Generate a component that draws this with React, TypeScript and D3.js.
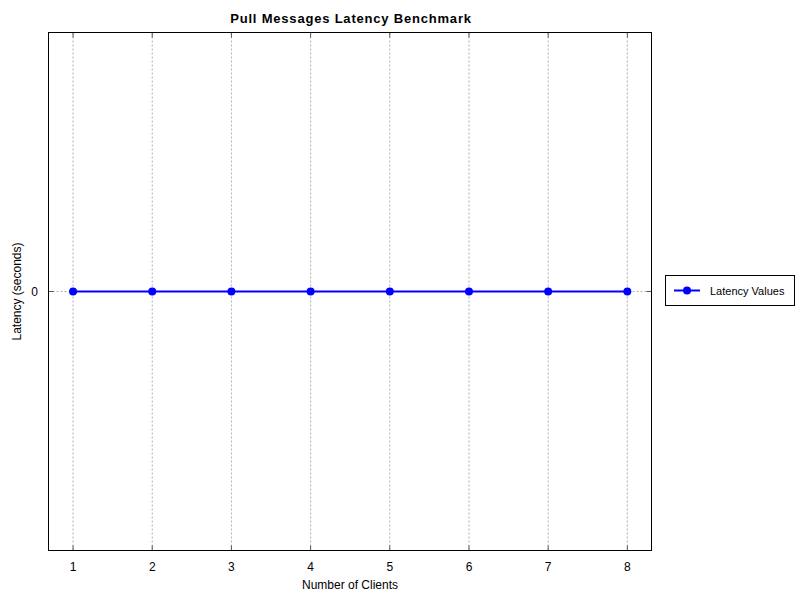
import * as d3 from "d3";

const clients = [1, 2, 3, 4, 5, 6, 7, 8];
const latency = [0, 0, 0, 0, 0, 0, 0, 0];
const yTicks = [0];

const WIDTH = 800;
const HEIGHT = 600;
const PLOT = { left: 48.5, top: 32.5, right: 651.5, bottom: 550.5 };
const FONT = "Liberation Sans, Arial, Helvetica, sans-serif";
const BLUE = "#0000ff";

export default function App() {
    const xScale = d3.scaleLinear().domain([0.69, 8.305]).range([PLOT.left, PLOT.right]);
    const yScale = d3.scaleLinear().domain([-1, 1]).range([PLOT.bottom, PLOT.top]);

    const line = d3
        .line<number>()
        .x((_, i) => xScale(clients[i]))
        .y((d) => yScale(d));

    // legend box
    const legend = { x: 665.5, y: 275.5, w: 129, h: 30 };
    const legendMid = legend.y + legend.h / 2;

    return (
        <svg
            width={WIDTH}
            height={HEIGHT}
            style={{ position: "absolute", left: 0, top: 0, background: "#fff" }}
            fontFamily={FONT}
        >
            <rect x={0} y={0} width={WIDTH} height={HEIGHT} fill="#fff" />

            {/* vertical grid + ticks */}
            {clients.map((c) => (
                <g key={c}>
                    <line
                        x1={xScale(c)}
                        x2={xScale(c)}
                        y1={PLOT.top}
                        y2={PLOT.bottom}
                        stroke="#b0b0b0"
                        strokeDasharray="2,2"
                    />
                    <line x1={xScale(c)} x2={xScale(c)} y1={PLOT.bottom} y2={PLOT.bottom - 5} stroke="#555" />
                    <line x1={xScale(c)} x2={xScale(c)} y1={PLOT.top} y2={PLOT.top + 5} stroke="#555" />
                    <text x={xScale(c)} y={571} textAnchor="middle" fontSize={12} fill="#000">
                        {c}
                    </text>
                </g>
            ))}

            {/* horizontal grid + ticks */}
            {yTicks.map((t) => (
                <g key={t}>
                    <line
                        x1={PLOT.left}
                        x2={PLOT.right}
                        y1={yScale(t)}
                        y2={yScale(t)}
                        stroke="#b0b0b0"
                        strokeDasharray="2,2"
                    />
                    <line x1={PLOT.left} x2={PLOT.left + 5} y1={yScale(t)} y2={yScale(t)} stroke="#555" />
                    <line x1={PLOT.right} x2={PLOT.right - 5} y1={yScale(t)} y2={yScale(t)} stroke="#555" />
                    <text x={38} y={yScale(t) + 4} textAnchor="end" fontSize={12} fill="#000">
                        {t}
                    </text>
                </g>
            ))}

            {/* axes box */}
            <rect
                x={PLOT.left}
                y={PLOT.top}
                width={PLOT.right - PLOT.left}
                height={PLOT.bottom - PLOT.top}
                fill="none"
                stroke="#000"
                strokeWidth={1}
            />

            {/* series */}
            <path d={line(latency) || ""} fill="none" stroke={BLUE} strokeWidth={2} />
            {latency.map((v, i) => (
                <circle key={i} cx={xScale(clients[i])} cy={yScale(v)} r={4} fill={BLUE} />
            ))}

            {/* title & labels */}
            <text
                x={351}
                y={23}
                textAnchor="middle"
                fontSize={13}
                fontWeight="bold"
                letterSpacing={0.8}
                fill="#000"
            >
                Pull Messages Latency Benchmark
            </text>
            <text x={350} y={589} textAnchor="middle" fontSize={12} fill="#000">
                Number of Clients
            </text>
            <text
                transform={`translate(21,${(PLOT.top + PLOT.bottom) / 2}) rotate(-90)`}
                textAnchor="middle"
                fontSize={12}
                fill="#000"
            >
                Latency (seconds)
            </text>

            {/* legend */}
            <rect x={legend.x} y={legend.y} width={legend.w} height={legend.h} fill="#fff" stroke="#000" />
            <line x1={674} x2={700} y1={legendMid} y2={legendMid} stroke={BLUE} strokeWidth={2} />
            <circle cx={687} cy={legendMid} r={4} fill={BLUE} />
            <text x={710} y={legendMid + 4} fontSize={11} fill="#000">
                Latency Values
            </text>
        </svg>
    );
}
